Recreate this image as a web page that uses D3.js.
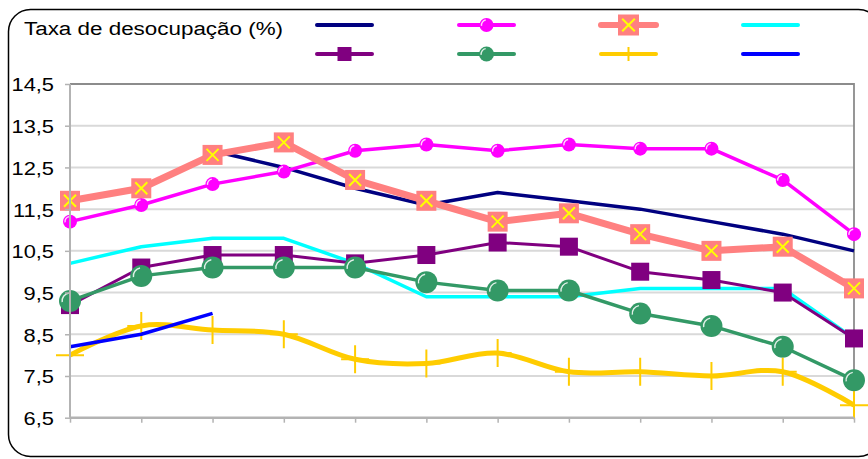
<!DOCTYPE html>
<html><head><meta charset="utf-8">
<script src="https://cdn.jsdelivr.net/npm/d3@7"></script>
<style>body{margin:0;background:#fff} svg{display:block}</style>
</head><body>
<svg id="c" width="868" height="459"></svg>
<script>
// ---- data ----
const categories = ["1","2","3","4","5","6","7","8","9","10","11","12"];
const yTickValues = [6.5,7.5,8.5,9.5,10.5,11.5,12.5,13.5,14.5];
const titleText = "Taxa de desocupação (%)";
const serieNavy    = [null,null,12.9,12.5,12.0,11.6,11.9,11.7,11.5,11.2,10.9,10.5];
const serieMagenta = [11.2,11.6,12.1,12.4,12.9,13.05,12.9,13.05,12.95,12.95,12.2,10.9];
const serieSalmon  = [11.7,12.0,12.8,13.1,12.2,11.7,11.2,11.4,10.9,10.5,10.6,9.6];
const serieCyan    = [10.2,10.6,10.8,10.8,10.2,9.4,9.4,9.4,9.6,9.6,9.6,8.4];
const seriePurple  = [9.2,10.1,10.4,10.4,10.2,10.4,10.7,10.6,10.0,9.8,9.5,8.4];
const serieGreen   = [9.3,9.9,10.1,10.1,10.1,9.75,9.55,9.55,9.0,8.7,8.2,7.4];
const serieGold    = [8.0,8.7,8.6,8.5,7.9,7.8,8.05,7.6,7.6,7.5,7.6,6.8];
const serieBlue    = [8.2,8.5,9.0,null,null,null,null,null,null,null,null,null];

// ---- styles ----
const series = [
  {v: serieNavy,    color:"#000080", w:3.5},
  {v: serieMagenta, color:"#FF00FF", w:3.5, marker:"circle", r:7, lr:7},
  {v: serieSalmon,  color:"#FF8080", w:7,   marker:"squareX", s:20, ls:21},
  {v: serieCyan,    color:"#00FFFF", w:3.5},
  {v: seriePurple,  color:"#800080", w:3,   marker:"square", s:18, ls:14},
  {v: serieGreen,   color:"#339966", w:3.5, marker:"circle", r:11, lr:7.5},
  {v: serieGold,    color:"#FFCC00", w:5,   marker:"plus", s:28, ls:14, smooth:true},
  {v: serieBlue,    color:"#0000FF", w:3.5}
];

const svg = d3.select("#c");
const FONT = "'Liberation Sans', Arial, sans-serif";
const SX = 1.15;

// frame
svg.append("rect").attr("x",8.5).attr("y",9.5).attr("width",872).attr("height",447)
  .attr("rx",22).attr("ry",22).attr("fill","#fff").attr("stroke","#000").attr("stroke-width",1.5);

// title
svg.append("text").attr("transform",`translate(24,35) scale(1.18,1)`)
  .attr("font-family",FONT).attr("font-size",19).attr("fill","#000").text(titleText);

const x = d3.scalePoint().domain(categories).range([70,854]);
const y = d3.scaleLinear().domain([6.5,14.5]).range([417.7,84]);

const plot = svg.append("g");
// gridlines
plot.selectAll("line.grid").data(yTickValues.filter(d=>d>6.5 && d<14.5)).join("line")
  .attr("x1",70).attr("x2",854).attr("y1",d=>y(d)).attr("y2",d=>y(d))
  .attr("stroke","#d9d9d9").attr("stroke-width",2);
// top and right border
plot.append("path").attr("d",`M70,${y(14.5)}H854V${y(6.5)}`).attr("fill","none")
  .attr("stroke","#8c8c8c").attr("stroke-width",1.8);

// axes
const yAxis = d3.axisLeft(y).tickValues(yTickValues).tickSize(5).tickPadding(10)
  .tickFormat(d=>d.toFixed(1).replace(".",","));
const gy = svg.append("g").attr("transform","translate(70,0)").call(yAxis);
gy.select(".domain").attr("stroke","#b3b3b3").attr("stroke-width",2).attr("d",`M0,${y(14.5)}V${y(6.5)}`);
gy.selectAll(".tick line").attr("stroke","#b3b3b3").attr("stroke-width",1.5);
gy.selectAll(".tick text").each(function(){
  const t = d3.select(this);
  t.attr("x",null).attr("dy",null)
   .attr("transform",`translate(-16,0) scale(${SX},1)`)
   .attr("dominant-baseline","central");
}).attr("font-family",FONT).attr("font-size",19).attr("fill","#000");

const xAxis = d3.axisBottom(x).tickSize(5).tickFormat(()=> "");
const gx = svg.append("g").attr("transform",`translate(0,${y(6.5)})`).call(xAxis);
gx.select(".domain").attr("stroke","#b3b3b3").attr("stroke-width",2.5).attr("d","M70,0H854");
gx.selectAll(".tick line").attr("stroke","#b3b3b3").attr("stroke-width",1.5);

// markers
function drawMarker(g, type, cx, cy, st, legend){
  if(type==="circle"){
    const r = legend ? st.lr : st.r;
    g.append("circle").attr("cx",cx).attr("cy",cy).attr("r",r).attr("fill",st.color);
    const rr = r*0.72;
    const arc = d3.arc().innerRadius(rr-0.7).outerRadius(rr+0.7)
      .startAngle(-Math.PI*0.55).endAngle(-Math.PI*0.05);
    g.append("path").attr("d",arc()).attr("transform",`translate(${cx},${cy})`)
      .attr("fill","#fff").attr("opacity",0.85);
  } else if(type==="square" || type==="squareX"){
    const s = legend ? st.ls : st.s;
    g.append("rect").attr("x",cx-s/2).attr("y",cy-s/2).attr("width",s).attr("height",s).attr("fill",st.color);
    if(type==="squareX"){
      const h = s*0.3;
      g.append("path").attr("d",`M${cx-h},${cy-h}L${cx+h},${cy+h}M${cx-h},${cy+h}L${cx+h},${cy-h}`)
        .attr("stroke","#FFFF00").attr("stroke-width",2);
    }
  } else if(type==="plus"){
    const h = (legend ? st.ls : st.s)/2;
    g.append("path").attr("d", legend ? `M${cx},${cy-h}V${cy+h}` : `M${cx-h},${cy}H${cx+h}M${cx},${cy-h}V${cy+h}`)
      .attr("stroke",st.color).attr("stroke-width",2);
  }
}

// series
series.forEach(st=>{
  const g = plot.append("g");
  const pts = st.v.map((v,i)=>({c:categories[i], v})).filter(d=>d.v!=null);
  const line = d3.line().x(d=>x(d.c)).y(d=>y(d.v))
    .curve(st.smooth ? d3.curveCatmullRom.alpha(0) : d3.curveLinear);
  g.append("path").datum(pts).attr("d",line).attr("fill","none")
    .attr("stroke",st.color).attr("stroke-width",st.w).attr("stroke-linejoin","round");
  if(st.marker) pts.forEach(d=>drawMarker(g, st.marker, x(d.c), y(d.v), st, false));
});

// legend (no text labels)
const legCols = [317,459,601,743];
const legRows = [25,54];
const legW = 55;
series.forEach((st,i)=>{
  const lx = legCols[i%4], ly = legRows[Math.floor(i/4)];
  const g = svg.append("g");
  g.append("line").attr("x1",lx).attr("x2",lx+legW).attr("y1",ly).attr("y2",ly)
    .attr("stroke",st.color).attr("stroke-width", st.w>=6 ? 6 : 4).attr("stroke-linecap","round");
  if(st.marker) drawMarker(g, st.marker, lx+legW/2, ly, st, true);
});
</script>
</body></html>
